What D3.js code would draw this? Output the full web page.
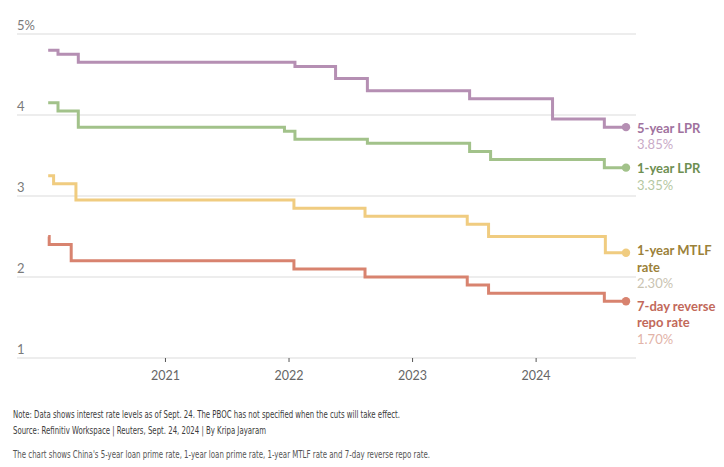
<!DOCTYPE html>
<html>
<head>
<meta charset="utf-8">
<script src="https://cdn.jsdelivr.net/npm/d3@7"></script>
<style>
  html, body { margin: 0; padding: 0; background: #fff; }
  svg { display: block; font-family: Lato, "Open Sans", sans-serif; }
</style>
</head>
<body>
<svg id="chart" width="724" height="467"></svg>
<script>
// ---- Data ----
const endDate = "2024-09-24";
const seriesNames = ["5-year LPR", "1-year LPR", "1-year MTLF rate", "7-day reverse repo rate"];
const labelLines = [["5-year LPR"], ["1-year LPR"], ["1-year MTLF", "rate"], ["7-day reverse", "repo rate"]];
const valueLabels = ["3.85%", "3.35%", "2.30%", "1.70%"];

const lpr5Dates  = ["2020-01-22","2020-02-20","2020-04-20","2022-01-20","2022-05-20","2022-08-22","2023-06-20","2024-02-20","2024-07-22"];
const lpr5Values = [4.80, 4.75, 4.65, 4.60, 4.45, 4.30, 4.20, 3.95, 3.85];

const lpr1Dates  = ["2020-01-22","2020-02-20","2020-04-20","2021-12-20","2022-01-20","2022-08-22","2023-06-20","2023-08-21","2024-07-22"];
const lpr1Values = [4.15, 4.05, 3.85, 3.80, 3.70, 3.65, 3.55, 3.45, 3.35];

const mlfDates   = ["2020-01-22","2020-02-07","2020-04-13","2022-01-17","2022-08-15","2023-06-13","2023-08-15","2024-07-25"];
const mlfValues  = [3.25, 3.15, 2.95, 2.85, 2.75, 2.65, 2.50, 2.30];

const repoDates  = ["2020-01-22","2020-01-25","2020-03-30","2022-01-17","2022-08-15","2023-06-13","2023-08-15","2024-07-22"];
const repoValues = [2.50, 2.40, 2.20, 2.10, 2.00, 1.90, 1.80, 1.70];

const yTicks = [1, 2, 3, 4, 5];
const yTickLabels = ["1", "2", "3", "4", "5%"];

const noteLines = [
  "Note: Data shows interest rate levels as of Sept. 24. The PBOC has not specified when the cuts will take effect.",
  "Source: Refinitiv Workspace | Reuters, Sept. 24, 2024 | By Kripa Jayaram",
  "The chart shows China's 5-year loan prime rate, 1-year loan prime rate, 1-year MTLF rate and 7-day reverse repo rate."
];

// ---- Styles ----
const lineColors  = ["#b58fb3", "#a2c28a", "#f0cc80", "#d8836f"];
const labelColors = ["#a0729e", "#6e8f52", "#9b8139", "#c2695a"];
const valueColors = ["#c9aac7", "#b5c8a2", "#c9c3b1", "#e2b3a8"];
const labelOffsets = [5.5, 5.5, 2.5, 9.5];

const parse = d3.timeParse("%Y-%m-%d");
const seriesDates = [lpr5Dates, lpr1Dates, mlfDates, repoDates];
const seriesValues = [lpr5Values, lpr1Values, mlfValues, repoValues];
const series = seriesNames.map((name, i) => {
  const pts = seriesDates[i].map((d, j) => ({ date: parse(d), value: seriesValues[i][j] }));
  pts.push({ date: parse(endDate), value: seriesValues[i][seriesValues[i].length - 1] });
  return { name, pts };
});

const svg = d3.select("#chart");
const gridLeft = 17, gridRight = 636;

const x = d3.scaleTime()
  .domain([parse("2020-02-20"), parse(endDate)])
  .range([58, 626]);
const y = d3.scaleLinear().domain([1, 5]).range([358, 34]);

// gridlines
svg.append("g").selectAll("line").data(yTicks).join("line")
  .attr("x1", gridLeft).attr("x2", gridRight)
  .attr("y1", d => y(d)).attr("y2", d => y(d))
  .attr("stroke", "#dcdcdc").attr("stroke-width", 1.2);

svg.append("g").selectAll("text").data(yTicks).join("text")
  .attr("x", gridLeft).attr("y", d => y(d) - 4.5)
  .attr("font-size", 13).attr("fill", "#7a7a7a")
  .text((d, i) => yTickLabels[i]);

// x axis
const xAxis = d3.axisBottom(x)
  .ticks(d3.timeYear.every(1))
  .tickFormat(d3.timeFormat("%Y"))
  .tickSize(4).tickPadding(9);
const gx = svg.append("g").attr("transform", `translate(0,${y(1)})`).call(xAxis);
gx.select(".domain").remove();
gx.selectAll(".tick line").attr("stroke", "#555").attr("stroke-width", 1);
gx.selectAll(".tick text").attr("font-size", 12.5).attr("fill", "#666")
  .attr("font-family", "Lato, sans-serif");

// lines
const line = d3.line().x(d => x(d.date)).y(d => y(d.value)).curve(d3.curveStepAfter);
series.forEach((s, i) => {
  svg.append("path").datum(s.pts)
    .attr("d", line).attr("fill", "none")
    .attr("stroke", lineColors[i]).attr("stroke-width", 3)
    .attr("stroke-linejoin", "miter");
  const last = s.pts[s.pts.length - 1];
  svg.append("circle").attr("cx", x(last.date)).attr("cy", y(last.value)).attr("r", 4.2)
    .attr("fill", lineColors[i]);
  const by = y(last.value) + labelOffsets[i];
  const t = svg.append("g");
  labelLines[i].forEach((ln, k) => {
    t.append("text").attr("x", 637).attr("y", by + k * 16.5)
      .attr("font-size", 13).attr("font-weight", 700).attr("fill", labelColors[i]).text(ln);
  });
  t.append("text").attr("x", 637).attr("y", by + labelLines[i].length * 16.5)
    .attr("font-size", 13).attr("fill", valueColors[i]).text(valueLabels[i]);
});

// notes
const noteY = [417.5, 434, 458];
const noteW = [387, 253, 417];
const noteC = ["#3c3c3c", "#3c3c3c", "#555"];
noteLines.forEach((t, i) => {
  svg.append("text").attr("x", 13).attr("y", noteY[i])
    .attr("font-size", 11.2)
    .attr("font-family", "'Liberation Sans Narrow', 'DejaVu Sans Condensed', sans-serif")
    .attr("fill", noteC[i])
    .attr("textLength", noteW[i]).attr("lengthAdjust", "spacingAndGlyphs")
    .text(t);
});
</script>
</body>
</html>
